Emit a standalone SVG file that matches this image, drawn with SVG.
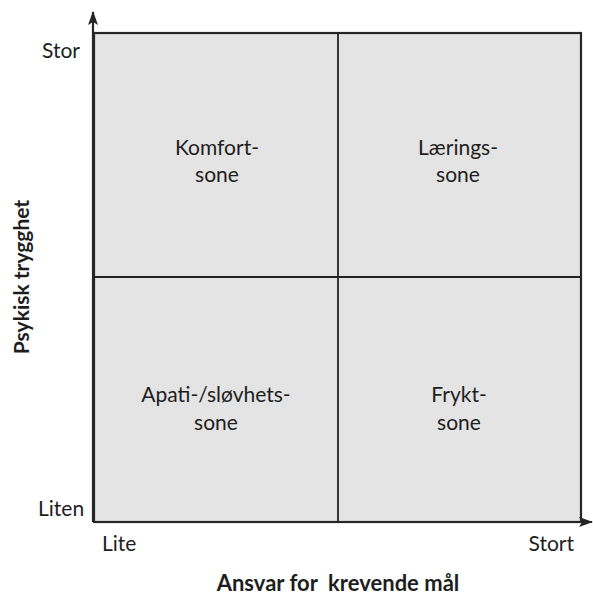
<svg xmlns="http://www.w3.org/2000/svg" width="593" height="599" viewBox="0 0 593 599">
<style>
.lbl{font-family:Lato,"Open Sans","Liberation Sans",sans-serif;font-size:21px;fill:#1e1e1e;text-anchor:middle}
.ax{font-family:Lato,"Open Sans","Liberation Sans",sans-serif;font-size:21px;fill:#1e1e1e}
.title{font-family:Lato,"Open Sans","Liberation Sans",sans-serif;font-size:22px;font-weight:bold;fill:#1e1e1e;text-anchor:middle}
.frame{fill:none;stroke:#262626;stroke-width:2.2}
.div{stroke:#222;stroke-width:1.8}
.axis{stroke:#262626;stroke-width:2.2}
</style>
<defs>
<marker id="ah" viewBox="0 0 14 10" refX="13" refY="5" markerWidth="14" markerHeight="10" markerUnits="userSpaceOnUse" orient="auto">
<path d="M0,0 L14,5 L0,10 L3,5 Z" fill="#262626"/>
</marker>
</defs>
<rect width="593" height="599" fill="#fff"/>
<g id="quadrants">
<rect x="94" y="33" width="487" height="489" fill="#e4e4e4"/>
<rect class="frame" x="94" y="33" width="487" height="489"/>
</g>
<g id="connectors">
<line class="div" x1="338" y1="33" x2="338" y2="522"/>
<line class="div" x1="94" y1="277" x2="581" y2="277"/>
<line class="axis" x1="93" y1="522" x2="93" y2="12" marker-end="url(#ah)"/>
<line class="axis" x1="93" y1="522" x2="592" y2="522" marker-end="url(#ah)"/>
</g>
<g id="komfort"><text class="lbl" x="217" y="155">Komfort-</text><text class="lbl" x="217" y="182">sone</text></g>
<g id="laerings"><text class="lbl" x="458" y="155">Lærings-</text><text class="lbl" x="458" y="182">sone</text></g>
<g id="apati"><text class="lbl" x="216" y="402">Apati-/sløvhets-</text><text class="lbl" x="216" y="430">sone</text></g>
<g id="frykt"><text class="lbl" x="459" y="402">Frykt-</text><text class="lbl" x="459" y="430">sone</text></g>
<g id="axes-labels">
<text class="ax" x="42" y="58">Stor</text>
<text class="ax" x="38" y="516">Liten</text>
<text class="ax" x="102" y="551">Lite</text>
<text class="ax" x="574" y="551" text-anchor="end">Stort</text>
<text class="title" x="338" y="591">Ansvar for&#160; krevende mål</text>
<text class="title" x="0" y="0" transform="translate(29,277) rotate(-90)" style="font-size:21px">Psykisk trygghet</text>
</g>
</svg>
